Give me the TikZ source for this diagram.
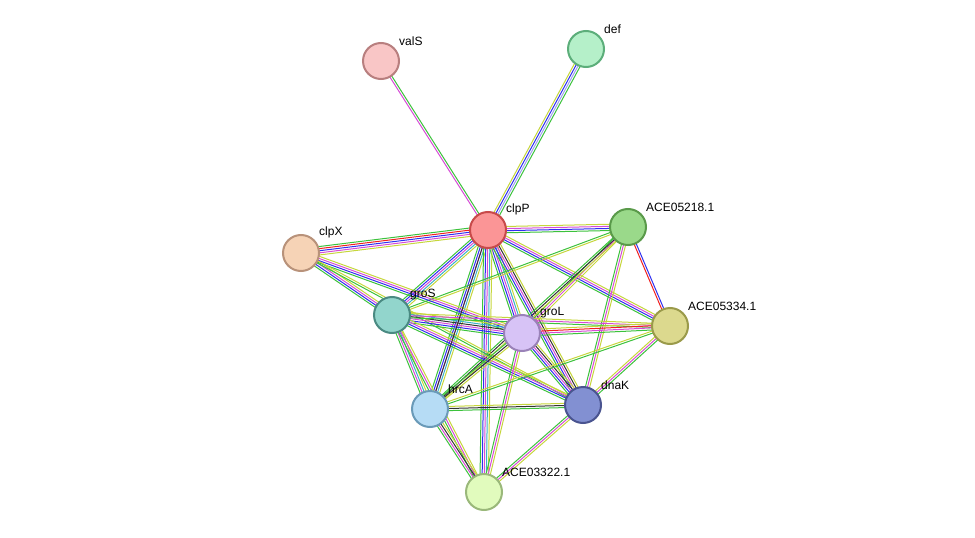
\documentclass[tikz,border=0pt]{standalone}
\usepackage{fontspec}
\setmainfont{Liberation Sans}
\usetikzlibrary{calc}
\definecolor{eg}{HTML}{3CC23C}
\definecolor{eb}{HTML}{2F2FF0}
\definecolor{em}{HTML}{D64CD6}
\definecolor{ey}{HTML}{C6D63C}
\definecolor{ec}{HTML}{3AB0C8}
\definecolor{ek}{HTML}{333333}
\definecolor{er}{HTML}{F02020}
\definecolor{el}{HTML}{A0A0F0}
\newcommand\medge[4]{%
  \foreach \c [count=\i] in {#4} {%
    \pgfmathsetmacro\o{(\i-(#3+1)/2)*2.1}%
    \draw[draw=\c, line width=1pt] ($(#1)!\o pt!90:(#2)$) -- ($(#2)!\o pt!-90:(#1)$);
  }}
\tikzset{prot/.style={circle, minimum size=36pt, inner sep=0pt, line width=2pt},
  lab/.style={anchor=south west, font=\fontsize{12}{13}\selectfont, inner sep=1pt}}
\begin{document}
\begin{tikzpicture}[x=1pt,y=-1pt]
\useasboundingbox (0,0) rectangle (975,538);
\coordinate (valS) at (381,61);
\coordinate (def) at (586,49);
\coordinate (clpP) at (488,230);
\coordinate (A18) at (628,227);
\coordinate (clpX) at (301,253);
\coordinate (groS) at (392,315);
\coordinate (groL) at (522,333);
\coordinate (A34) at (670,326);
\coordinate (hrcA) at (430,409);
\coordinate (dnaK) at (583,405);
\coordinate (A22) at (484,492);
\medge{valS}{clpP}{2}{em,eg}
\medge{def}{clpP}{4}{ey,eb,el,eg}
\medge{clpP}{A18}{4}{eg,eb,em,ey}
\medge{clpP}{clpX}{5}{eg,er,eb,em,ey}
\medge{clpP}{groS}{5}{eg,eb,em,ec,ey}
\medge{clpP}{groL}{5}{eg,eb,em,ec,ey}
\medge{clpP}{hrcA}{5}{eg,eb,em,ec,ey}
\medge{clpP}{dnaK}{5}{eg,eb,em,ek,ey}
\medge{clpP}{A22}{5}{eg,eb,em,ec,ey}
\medge{clpP}{A34}{4}{eg,eb,em,ey}
\medge{A18}{A34}{2}{er,eb}
\medge{A18}{groS}{2}{eg,ey}
\medge{A18}{groL}{3}{eg,em,ey}
\medge{A18}{hrcA}{3}{eg,ek,ey}
\medge{A18}{dnaK}{3}{eg,em,ey}
\medge{clpX}{groS}{4}{eg,eb,em,ey}
\medge{clpX}{groL}{4}{eg,eb,em,ey}
\medge{clpX}{dnaK}{2}{eg,ey}
\medge{groS}{groL}{6}{eg,eb,em,ek,ec,ey}
\medge{groS}{A34}{3}{eg,em,ey}
\medge{groS}{hrcA}{4}{eg,em,ec,ey}
\medge{groS}{dnaK}{4}{eg,eb,em,ey}
\medge{groS}{A22}{3}{eg,em,ey}
\medge{groL}{A34}{4}{eg,em,er,ey}
\medge{groL}{hrcA}{3}{eg,ek,ey}
\medge{groL}{dnaK}{5}{eg,eb,em,ek,ey}
\medge{groL}{A22}{3}{eg,em,ey}
\medge{hrcA}{A34}{2}{eg,ey}
\medge{hrcA}{dnaK}{3}{eg,ek,ey}
\medge{hrcA}{A22}{4}{eg,em,ek,ey}
\medge{hrcA}{clpP}{1}{ek}
\medge{dnaK}{A34}{3}{eg,em,ey}
\medge{dnaK}{A22}{3}{eg,em,ey}
\node[prot, fill={rgb,255:red,249;green,198;blue,198}, draw={rgb,255:red,184;green,127;blue,127}] (nvalS) at (valS) {};
\node[prot, fill={rgb,255:red,181;green,240;blue,201}, draw={rgb,255:red,92;green,174;blue,122}] (ndef) at (def) {};
\node[prot, fill={rgb,255:red,251;green,149;blue,150}, draw={rgb,255:red,200;green,74;blue,74}] (nclpP) at (clpP) {};
\node[prot, fill={rgb,255:red,154;green,217;blue,138}, draw={rgb,255:red,90;green,154;blue,74}] (nA18) at (A18) {};
\node[prot, fill={rgb,255:red,246;green,211;blue,182}, draw={rgb,255:red,184;green,146;blue,122}] (nclpX) at (clpX) {};
\node[prot, fill={rgb,255:red,146;green,213;blue,204}, draw={rgb,255:red,74;green,138;blue,130}] (ngroS) at (groS) {};
\node[prot, fill={rgb,255:red,215;green,195;blue,246}, draw={rgb,255:red,154;green,130;blue,184}] (ngroL) at (groL) {};
\node[prot, fill={rgb,255:red,220;green,217;blue,142}, draw={rgb,255:red,154;green,154;blue,74}] (nA34) at (A34) {};
\node[prot, fill={rgb,255:red,182;green,220;blue,245}, draw={rgb,255:red,106;green,154;blue,184}] (nhrcA) at (hrcA) {};
\node[prot, fill={rgb,255:red,130;green,144;blue,210}, draw={rgb,255:red,74;green,84;blue,144}] (ndnaK) at (dnaK) {};
\node[prot, fill={rgb,255:red,225;green,251;blue,189}, draw={rgb,255:red,154;green,184;blue,122}] (nA22) at (A22) {};
\node[lab] (lvalS) at ($(valS)+(17,-14)$) {valS};
\node[lab] (ldef) at ($(def)+(17,-14)$) {def};
\node[lab] (lclpP) at ($(clpP)+(17,-14)$) {clpP};
\node[lab] (lA18) at ($(A18)+(17,-14)$) {ACE05218.1};
\node[lab] (lclpX) at ($(clpX)+(17,-14)$) {clpX};
\node[lab] (lgroS) at ($(groS)+(17,-14)$) {groS};
\node[lab] (lgroL) at ($(groL)+(17,-14)$) {groL};
\node[lab] (lA34) at ($(A34)+(17,-14)$) {ACE05334.1};
\node[lab] (lhrcA) at ($(hrcA)+(17,-14)$) {hrcA};
\node[lab] (ldnaK) at ($(dnaK)+(17,-14)$) {dnaK};
\node[lab] (lA22) at ($(A22)+(17,-14)$) {ACE03322.1};
\end{tikzpicture}
\end{document}
